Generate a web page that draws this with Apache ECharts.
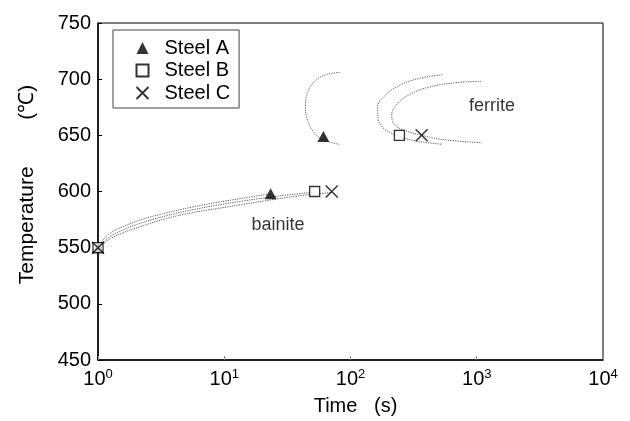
<!DOCTYPE html>
<html><head><meta charset="utf-8">
<script src="https://cdn.jsdelivr.net/npm/echarts@6/dist/echarts.min.js"></script>
<style>html,body{margin:0;padding:0;background:#fff}#c{width:630px;height:421px}</style>
</head><body><div id="c"></div>
<script>
// Markers: [time (s), temperature (°C)]
const steelA = [[1,550],[23.3,598],[61,649]];
const steelB = [[1,550],[52,600],[244,650]];
const steelC = [[1,550],[71,600],[366,650]];
// Bainite start curves
const bainiteA = [[1,550],[1.1,557],[1.25,563],[1.6,569],[2.2,575],[3.5,581],[5.5,586],[9,590.5],[14,594],[23.3,598]];
const bainiteB = [[1,550],[1.1,555],[1.25,560],[1.6,566],[2.2,572],[3.5,578.5],[5.5,583.5],[9,588],[14,591.5],[25,595.5],[52,599.5]];
const bainiteC = [[1,550],[1.1,553.5],[1.25,558],[1.6,563.5],[2.2,569],[3.5,576],[5.5,581],[9,585],[14,588.5],[25,593],[45,597],[71,599]];
// Ferrite start C-curves
const ferriteA = [[82,706],[64,704],[52,698],[46,689],[44,677],[45,666],[49,656],[55,649],[64,645],[82,642]];
const ferriteB = [[533,704],[360,701],[250,695],[190,686],[164,675],[165,665],[180,657],[210,652],[244,649],[330,645],[533,642]];
const ferriteC = [[1080,698],[700,697],[420,693],[290,686],[230,677],[212,668],[222,660],[260,655],[366,650],[560,646],[1080,643.5]];
// Axes
const xMin = 1, xMax = 10000;
const yMin = 450, yMax = 750, yStep = 50;
const labels = [{text:'ferrite', t:1320, T:676},{text:'bainite', t:26.7, T:570.5}];

const FONT = 'Liberation Sans, Arial, sans-serif';
const chart = echarts.init(document.getElementById('c'));
function curve(name, data){
  return {type:'line', name:name, data:data, smooth:0.4, symbol:'none', silent:true,
    lineStyle:{color:'#555', width:1, type:[1.2,1.2]}, z:2};
}
chart.setOption({
  animation:false,
  grid:{left:98, right:27, top:23, bottom:61, show:true, borderColor:'#000', borderWidth:1},
  legend:{
    orient:'vertical', left:113, top:30, padding:[8,9,5,21], itemGap:2.5,
    borderColor:'#444', borderWidth:1, itemWidth:12, itemHeight:12,
    textStyle:{fontFamily:FONT, fontSize:20, color:'#000', padding:[0,0,0,11]},
    data:['Steel A','Steel B','Steel C']
  },
  xAxis:{
    type:'log', logBase:10, min:xMin, max:xMax,
    name:'Time   (s)', nameLocation:'middle', nameGap:36,
    nameTextStyle:{fontFamily:FONT, fontSize:20, color:'#000', padding:[0,0,0,10]},
    axisLine:{lineStyle:{color:'#000', width:1.5}},
    axisTick:{inside:true, length:4, lineStyle:{color:'#888'}},
    splitLine:{show:false},
    axisLabel:{fontFamily:FONT, fontSize:20, color:'#000', margin:8,
      formatter:function(v){ const e=Math.round(Math.log10(v)); return '{b|10}{s|'+e+'}'; },
      rich:{b:{fontFamily:FONT, fontSize:20, color:'#000'}, s:{fontFamily:FONT, fontSize:13, color:'#000', verticalAlign:'top', padding:[0,0,9,0]}}
    }
  },
  yAxis:{
    type:'value', min:yMin, max:yMax, interval:yStep,
    name:'Temperature        (℃)', nameLocation:'middle', nameGap:60, nameRotate:90,
    nameTextStyle:{fontFamily:FONT, fontSize:21, color:'#000', padding:[0,0,0,14]},
    axisLine:{show:true, lineStyle:{color:'#000', width:1.5}},
    axisTick:{show:true, inside:true, length:4, lineStyle:{color:'#000'}},
    splitLine:{show:false},
    axisLabel:{fontFamily:FONT, fontSize:20, color:'#000', margin:7}
  },
  series:[
    curve('bA', bainiteA), curve('bB', bainiteB), curve('bC', bainiteC),
    curve('fA', ferriteA), curve('fB', ferriteB), curve('fC', ferriteC),
    {type:'scatter', name:'Steel A', data:steelA, symbol:'triangle', symbolSize:[12,11],
      itemStyle:{color:'#000'}, z:5},
    {type:'scatter', name:'Steel B', data:steelB, symbol:'rect', symbolSize:10,
      itemStyle:{color:'#fff', borderColor:'#000', borderWidth:1.3}, z:5},
    {type:'scatter', name:'Steel C', data:steelC, symbol:'path://M0,0L10,10M10,0L0,10', symbolSize:12,
      itemStyle:{color:'none', borderColor:'#000', borderWidth:1.5}, z:5},
    {type:'scatter', name:'labels', silent:true, symbolSize:0,
      data:labels.map(l=>({value:[l.t,l.T], name:l.text})),
      label:{show:true, position:'inside', formatter:'{b}', fontFamily:FONT, fontSize:18, color:'#000'}}
  ]
});
</script></body></html>
